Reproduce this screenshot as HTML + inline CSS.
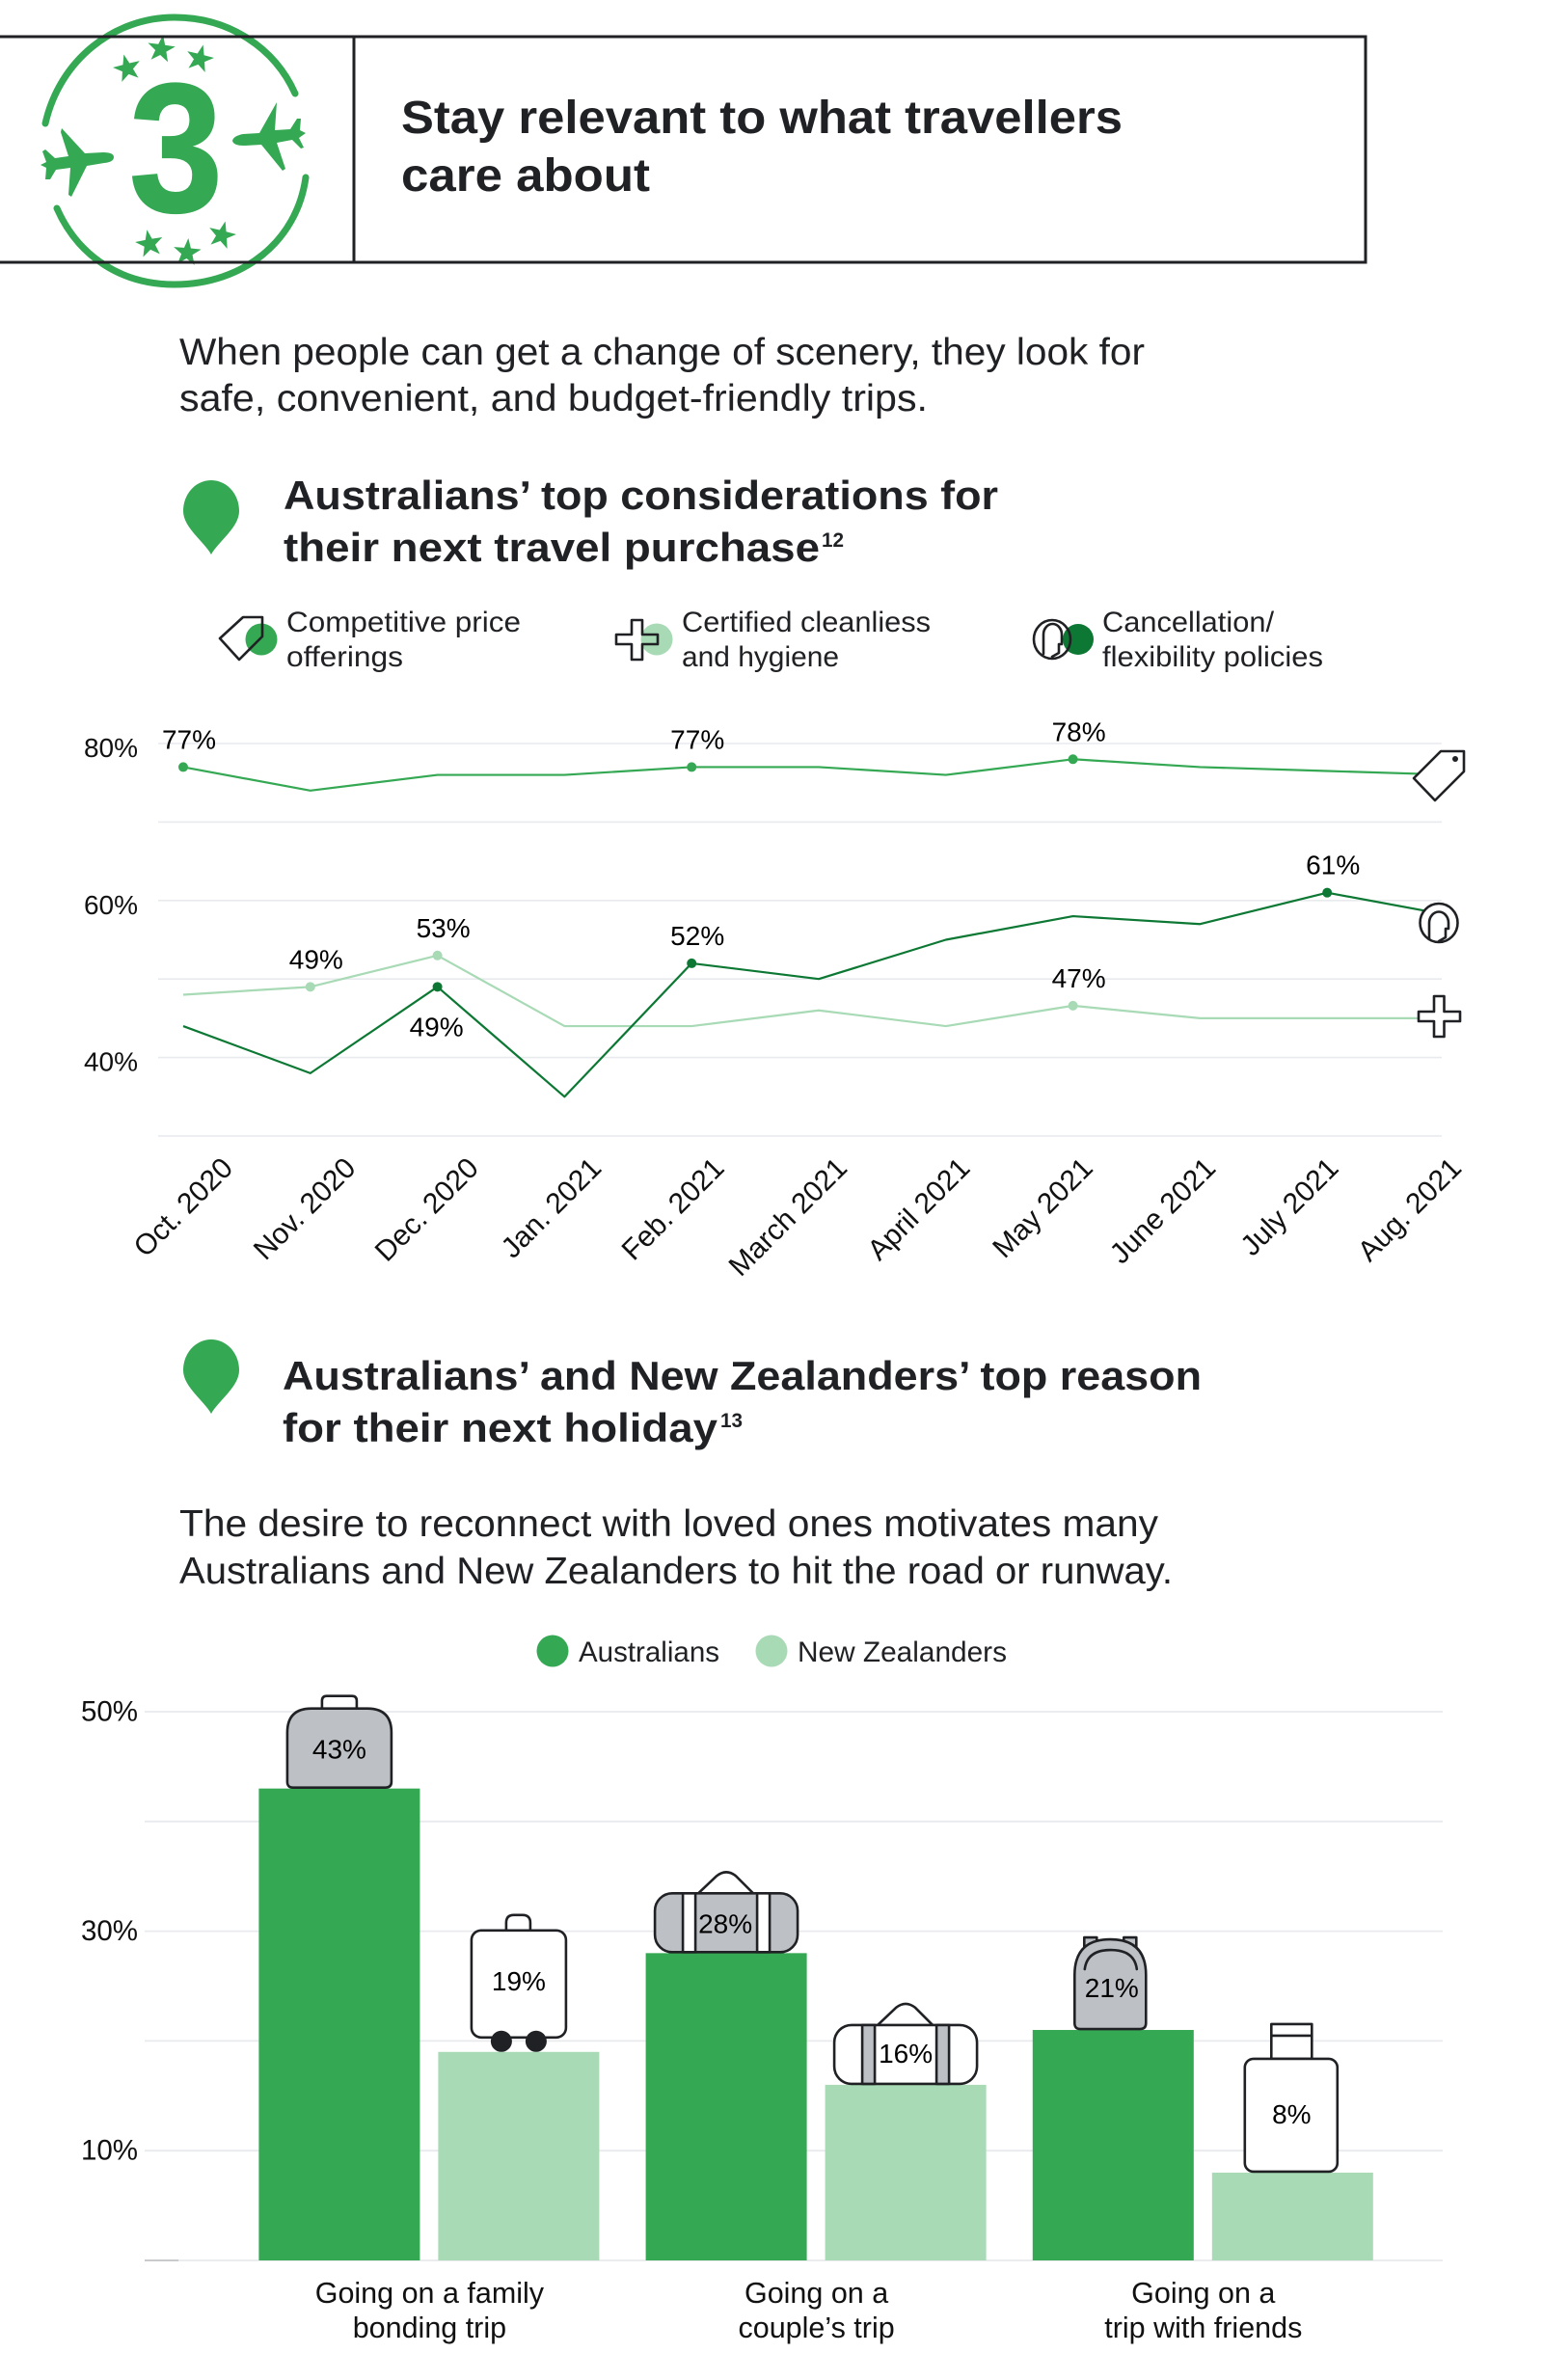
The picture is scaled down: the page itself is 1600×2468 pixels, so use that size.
<!DOCTYPE html>
<html lang="en">
<head>
<meta charset="utf-8">
<title>Stay relevant to what travellers care about</title>
<style>
html,body{margin:0;padding:0;background:#fff;}
svg{display:block;}
text{font-family:"Liberation Sans",sans-serif;}
.ttl{font-weight:700;fill:#202124;font-size:48px;}
.hd{font-weight:700;fill:#202124;font-size:42px;}
.para{fill:#202124;font-size:39px;}
.leg{fill:#202124;font-size:30px;}
.sup{font-weight:700;fill:#202124;font-size:21px;}
.tick{fill:#111;font-size:28px;}
.val{fill:#000;font-size:28px;}
.ico{stroke:#202124;stroke-width:2.6;stroke-linejoin:round;stroke-linecap:round;}
</style>
</head>
<body>
<svg id="page" xmlns="http://www.w3.org/2000/svg" width="1600" height="2468" viewBox="0 0 1600 2468">
<rect width="1600" height="2468" fill="#fff"/>

<g fill="#34a853">
  <path d="M47,128 C62,62 118,18 181,18 C238,18 285,50 306,97" fill="none" stroke="#34a853" stroke-width="7" stroke-linecap="round"/>
  <path d="M59,216 C82,268 128,295 181,295 C252,295 308,250 317,184" fill="none" stroke="#34a853" stroke-width="7" stroke-linecap="round"/>
  <text x="134" y="219" font-size="190" font-weight="700" fill="#34a853" stroke="#34a853" stroke-width="2" textLength="97" lengthAdjust="spacingAndGlyphs">3</text>
  <path d="M118,163 Q118,158 107,158 L88,159 L64,133 L63,137 L71,162 L57,164 L47,155 L44,157 L48,168 L42,171 L48,174 L47,186 L52,186 L58,176 L73,174 L71,202 L74,204 L90,172 L108,169 Q118,168 118,163 Z"/>
  <path d="M241,146 Q242,141 252,139 L269,138 L287,106 L285,135 L301,134 L308,123 L312,123 L311,135 L317,138 L310,143 L315,153 L312,154 L303,145 L287,148 L296,175 L293,177 L271,150 L253,151 Q242,151 241,146 Z"/>
  <polygon transform="translate(132 71) rotate(-14)" points="0,-15 3.5,-4.8 14.3,-4.6 5.7,1.8 8.8,12.1 0,6 -8.8,12.1 -5.7,1.8 -14.3,-4.6 -3.5,-4.8"/>
  <polygon transform="translate(167 51) rotate(8)" points="0,-15 3.5,-4.8 14.3,-4.6 5.7,1.8 8.8,12.1 0,6 -8.8,12.1 -5.7,1.8 -14.3,-4.6 -3.5,-4.8"/>
  <polygon transform="translate(207 61) rotate(14)" points="0,-15 3.5,-4.8 14.3,-4.6 5.7,1.8 8.8,12.1 0,6 -8.8,12.1 -5.7,1.8 -14.3,-4.6 -3.5,-4.8"/>
  <polygon transform="translate(155 253) rotate(-10)" points="0,-15 3.5,-4.8 14.3,-4.6 5.7,1.8 8.8,12.1 0,6 -8.8,12.1 -5.7,1.8 -14.3,-4.6 -3.5,-4.8"/>
  <polygon transform="translate(194 262) rotate(5)" points="0,-15 3.5,-4.8 14.3,-4.6 5.7,1.8 8.8,12.1 0,6 -8.8,12.1 -5.7,1.8 -14.3,-4.6 -3.5,-4.8"/>
  <polygon transform="translate(230 244) rotate(14)" points="0,-15 3.5,-4.8 14.3,-4.6 5.7,1.8 8.8,12.1 0,6 -8.8,12.1 -5.7,1.8 -14.3,-4.6 -3.5,-4.8"/>
</g>

<g fill="none" stroke="#202124" stroke-width="3">
  <path d="M0,38 H1416 V272 H0"/>
  <path d="M367,38 V272"/>
</g>
<text class="ttl" x="416" y="138" textLength="748" lengthAdjust="spacingAndGlyphs">Stay relevant to what travellers</text>
<text class="ttl" x="416" y="198" textLength="258" lengthAdjust="spacingAndGlyphs">care about</text>

<text class="para" x="186" y="378" textLength="1001" lengthAdjust="spacingAndGlyphs">When people can get a change of scenery, they look for</text>
<text class="para" x="186" y="426" textLength="776" lengthAdjust="spacingAndGlyphs">safe, convenient, and budget-friendly trips.</text>

<path d="M219,498 C203,498 190,512 190,530 C190,547 212,562 219,575 C226,562 248,547 248,530 C248,512 235,498 219,498 Z" fill="#34a853"/>
<text class="hd" x="294" y="528" textLength="741" lengthAdjust="spacingAndGlyphs">Australians’ top considerations for</text>
<text class="hd" x="294" y="582" textLength="556" lengthAdjust="spacingAndGlyphs">their next travel purchase</text>
<text class="sup" x="852" y="567" textLength="23" lengthAdjust="spacingAndGlyphs">12</text>

<g>
  <circle cx="271" cy="663" r="16.5" fill="#34a853"/>
  <path class="ico" fill="none" d="M228,662 L252,640 H272 V660 L248,684 Z"/>
  <text class="leg" x="297" y="655" textLength="243" lengthAdjust="spacingAndGlyphs">Competitive price</text>
  <text class="leg" x="297" y="691" textLength="121" lengthAdjust="spacingAndGlyphs">offerings</text>

  <circle cx="681" cy="663" r="16.5" fill="#a8dab5"/>
  <path class="ico" fill="none" d="M655,643 H666 V658 H682 V668 H666 V684 H655 V668 H639 V658 H655 Z"/>
  <text class="leg" x="707" y="655" textLength="258" lengthAdjust="spacingAndGlyphs">Certified cleanliess</text>
  <text class="leg" x="707" y="691" textLength="163" lengthAdjust="spacingAndGlyphs">and hygiene</text>

  <circle cx="1118" cy="663" r="16" fill="#0c7833"/>
  <g class="ico" fill="none">
    <ellipse cx="1091" cy="663" rx="19" ry="20"/>
    <path d="M1082,678 V658 A9.5,11 0 0 1 1101,658 V668 H1098 V677 L1091,681"/>
  </g>
  <text class="leg" x="1143" y="655" textLength="178" lengthAdjust="spacingAndGlyphs">Cancellation/</text>
  <text class="leg" x="1143" y="691" textLength="229" lengthAdjust="spacingAndGlyphs">flexibility policies</text>
</g>

<g id="line-chart"></g>

<g>
  <g>
    <path class="ico" fill="#fff" d="M1466,807 L1494,779 H1518 V800 L1488,830 Z"/>
    <circle cx="1509" cy="787" r="3" fill="#202124"/>
  </g>
  <g class="ico" fill="#fff">
    <ellipse cx="1492" cy="957" rx="19.5" ry="20"/>
    <path fill="none" d="M1482,974 V957 A10,11.5 0 0 1 1502,957 V963 H1499 V972 L1492,976"/>
  </g>
  <path class="ico" fill="#fff" d="M1487,1033 H1497.5 V1049 H1514 V1059 H1497.5 V1075 H1487 V1059 H1471 V1049 H1487 Z"/>
</g>

<path d="M219,1389 C203,1389 190,1403 190,1421 C190,1438 212,1453 219,1466 C226,1453 248,1438 248,1421 C248,1403 235,1389 219,1389 Z" fill="#34a853"/>
<text class="hd" x="293" y="1441" textLength="953" lengthAdjust="spacingAndGlyphs">Australians’ and New Zealanders’ top reason</text>
<text class="hd" x="293" y="1495" textLength="451" lengthAdjust="spacingAndGlyphs">for their next holiday</text>
<text class="sup" x="747" y="1480" textLength="23" lengthAdjust="spacingAndGlyphs">13</text>

<text class="para" x="186" y="1593" textLength="1015" lengthAdjust="spacingAndGlyphs">The desire to reconnect with loved ones motivates many</text>
<text class="para" x="186" y="1642" textLength="1030" lengthAdjust="spacingAndGlyphs">Australians and New Zealanders to hit the road or runway.</text>

<g>
  <circle cx="573" cy="1712" r="16.5" fill="#34a853"/>
  <text class="leg" x="600" y="1723" textLength="146" lengthAdjust="spacingAndGlyphs">Australians</text>
  <circle cx="800" cy="1712" r="16.5" fill="#a8dab5"/>
  <text class="leg" x="827" y="1723" textLength="217" lengthAdjust="spacingAndGlyphs">New Zealanders</text>
</g>

<g id="bar-chart"></g>
</svg>

<script>
// ---- line chart data ----
const monthLabels = ["Oct. 2020","Nov. 2020","Dec. 2020","Jan. 2021","Feb. 2021","March 2021","April 2021","May 2021","June 2021","July 2021","Aug. 2021"];
const priceValues = [77,74,76,76,77,77,76,78,77,76.5,76];
const cleanlinessValues = [48,49,53,44,44,46,44,46.6,45,45,45];
const flexibilityValues = [44,38,49,35,52,50,55,58,57,61,58];
const priceCallouts = [0,4,7];
const cleanlinessCallouts = [1,2,7];
const flexibilityCallouts = [2,4,9];
const flexibilityCalloutsBelow = [2];
const lineGridValues = [80,70,60,50,40,30];
const lineTickValues = [80,60,40];

// ---- bar chart data ----
const reasonFirstLines = ["Going on a family","Going on a","Going on a"];
const reasonSecondLines = ["bonding trip","couple’s trip","trip with friends"];
const australiansValues = [43,28,21];
const newZealandersValues = [19,16,8];
const australiansLuggage = ["hardcase","duffel-gray","backpack"];
const newZealandersLuggage = ["roller","duffel-white","suitcase"];
const barGridValues = [50,40,30,20,10,0];
const barTickValues = [50,30,10];

const NS = "http://www.w3.org/2000/svg";
function svgEl(parent, tag, attrs, text) {
  const el = document.createElementNS(NS, tag);
  for (const k in attrs) el.setAttribute(k, attrs[k]);
  if (text !== undefined) el.textContent = text;
  parent.appendChild(el);
  return el;
}

// ---- line chart ----
const lineRoot = document.getElementById("line-chart");
const lineX = i => 190 + 131.8 * i;
const lineY = v => 1178 - (v - 30) * 8.14;
const monthLabelX = i => 243 + 127.4 * i;

lineGridValues.forEach(v => {
  const el = svgEl(lineRoot, "line", {x1:164, x2:1495, y1:lineY(v), y2:lineY(v), stroke:"#e8eaed", "stroke-width":1.6});
  
  
});
lineTickValues.forEach(v => {
  const el = svgEl(lineRoot, "text", {x:143, y:lineY(v)+14, "text-anchor":"end", class:"tick"}, v + "%");
  
  
});
monthLabels.forEach((m, i) => {
  const x = monthLabelX(i);
  const el = svgEl(lineRoot, "text", {x:x, y:1213, "text-anchor":"end", class:"tick",
    transform:"rotate(-45 " + x + " 1213)", style:"font-size:30px"}, m);
  
  
});

function drawSeries(values, color, callouts, below, lineName, markerName, labelName) {
  const pts = values.map((v, i) => lineX(i) + "," + lineY(v)).join(" ");
  const line = svgEl(lineRoot, "polyline", {points:pts, fill:"none", stroke:color, "stroke-width":2.2, "stroke-linejoin":"round"});
  
  
  callouts.forEach(i => {
    const m = svgEl(lineRoot, "circle", {cx:lineX(i), cy:lineY(values[i]), r:5, fill:color});
    
    
    const isBelow = below.indexOf(i) >= 0;
    const t = svgEl(lineRoot, "text", {
      x: lineX(i) + (isBelow ? -1 : 6),
      y: lineY(values[i]) + (isBelow ? 51 : -19),
      "text-anchor":"middle", class:"val"
    }, Math.round(values[i]) + "%");
    
    
  });
}
drawSeries(cleanlinessValues, "#a8dab5", cleanlinessCallouts, [], "series-line-cleanliness", "series-marker-cleanliness", "value-label-cleanliness");
drawSeries(priceValues, "#34a853", priceCallouts, [], "series-line-price", "series-marker-price", "value-label-price");
drawSeries(flexibilityValues, "#0c7833", flexibilityCallouts, flexibilityCalloutsBelow, "series-line-flexibility", "series-marker-flexibility", "value-label-flexibility");

// ---- bar chart ----
const barRoot = document.getElementById("bar-chart");
const barY = v => 2344 - v * 11.38;
const BAR_W = 167;
const groupX = i => 268.4 + 401.2 * i;
const nzOffset = 186;

barGridValues.forEach(v => {
  const el = svgEl(barRoot, "line", {x1:150, x2:1496, y1:barY(v), y2:barY(v), stroke:"#e8eaed", "stroke-width":1.8});
  
  
});
const axisStub = svgEl(barRoot, "line", {x1:150, x2:185, y1:barY(0), y2:barY(0), stroke:"#c8cacd", "stroke-width":2});


barTickValues.forEach(v => {
  const el = svgEl(barRoot, "text", {x:143, y:barY(v)+9.5, "text-anchor":"end", class:"tick", style:"font-size:29.5px"}, v + "%");
  
  
});

const luggageShapes = {
  "hardcase": {dx:0, textY:-31, svg:
    '<path class="ico" fill="none" d="M-18,-83 V-91 Q-18,-96 -13,-96 H13 Q18,-96 18,-91 V-83"/>' +
    '<path class="ico" fill="#bdc1c6" d="M-48,-1 H48 Q54,-1 54,-7 V-58 Q54,-83 29,-83 H-29 Q-54,-83 -54,-58 V-7 Q-54,-1 -48,-1 Z"/>'},
  "roller": {dx:0, textY:-64, svg:
    '<path class="ico" fill="none" d="M-13,-126 V-134 Q-13,-142 -5,-142 H4 Q12,-142 12,-134 V-126"/>' +
    '<rect class="ico" fill="#fff" x="-49" y="-126" width="98" height="111" rx="10"/>' +
    '<circle cx="-18" cy="-11" r="11" fill="#202124"/><circle cx="18" cy="-11" r="11" fill="#202124"/>'},
  "duffel-gray": {dx:-1, textY:-21, svg:
    '<path class="ico" fill="none" d="M-29,-62 L-10,-80 Q0,-88 10,-80 L28,-62"/>' +
    '<rect class="ico" fill="#bdc1c6" x="-74" y="-62" width="148" height="61" rx="18"/>' +
    '<rect class="ico" fill="#fff" x="-45" y="-62" width="13" height="61"/>' +
    '<rect class="ico" fill="#fff" x="32" y="-62" width="13" height="61"/>'},
  "duffel-white": {dx:0, textY:-23, svg:
    '<path class="ico" fill="none" d="M-29,-62 L-10,-80 Q0,-88 10,-80 L28,-62"/>' +
    '<rect class="ico" fill="#fff" x="-74" y="-62" width="148" height="61" rx="18"/>' +
    '<rect class="ico" fill="#bdc1c6" x="-45" y="-62" width="13" height="61"/>' +
    '<rect class="ico" fill="#bdc1c6" x="32" y="-62" width="13" height="61"/>'},
  "backpack": {dx:-1.5, textY:-34, svg:
    '<rect class="ico" fill="#bdc1c6" x="-30" y="-96" width="13" height="16"/>' +
    '<rect class="ico" fill="#bdc1c6" x="11" y="-96" width="13" height="16"/>' +
    '<path class="ico" fill="#bdc1c6" d="M-34,-1 H28 Q34,-1 34,-7 V-57 Q34,-94 -3,-94 Q-40,-94 -40,-57 V-7 Q-40,-1 -34,-1 Z"/>' +
    '<path class="ico" fill="none" d="M-29.5,-63 Q-27,-83 -2.5,-83 Q22,-83 24.5,-63"/>'},
  "suitcase": {dx:-1, textY:-51, svg:
    '<rect class="ico" fill="#fff" x="-22" y="-154" width="42" height="36"/>' +
    '<line class="ico" x1="-22" x2="20" y1="-142" y2="-142"/>' +
    '<rect class="ico" fill="#fff" x="-49.5" y="-118" width="96" height="117" rx="9"/>'}
};

function drawLuggage(kind, cx, top, value) {
  const shape = luggageShapes[kind];
  const g = svgEl(barRoot, "g", {transform:"translate(" + cx + " " + top + ")"});
  
  
  g.innerHTML = shape.svg;
  const t = svgEl(g, "text", {x:shape.dx, y:shape.textY, "text-anchor":"middle", class:"val"}, value + "%");
  
  
}

reasonFirstLines.forEach((label, i) => {
  const x1 = groupX(i), x2 = groupX(i) + nzOffset;
  const b1 = svgEl(barRoot, "rect", {x:x1, y:barY(australiansValues[i]), width:BAR_W, height:barY(0)-barY(australiansValues[i]), fill:"#34a853"});
  
  
  const b2 = svgEl(barRoot, "rect", {x:x2, y:barY(newZealandersValues[i]), width:BAR_W, height:barY(0)-barY(newZealandersValues[i]), fill:"#a8dab5"});
  
  
  drawLuggage(australiansLuggage[i], x1 + BAR_W/2, barY(australiansValues[i]), australiansValues[i]);
  drawLuggage(newZealandersLuggage[i], x2 + BAR_W/2, barY(newZealandersValues[i]), newZealandersValues[i]);
  const cx = groupX(i) + 176 + 1;
  const t1 = svgEl(barRoot, "text", {x:cx, y:2388, "text-anchor":"middle", class:"tick", style:"font-size:30.5px"}, label);
  
  
  const t2 = svgEl(barRoot, "text", {x:cx, y:2424, "text-anchor":"middle", class:"tick", style:"font-size:30.5px"}, reasonSecondLines[i]);
  
  
});
</script>
</body>
</html>
